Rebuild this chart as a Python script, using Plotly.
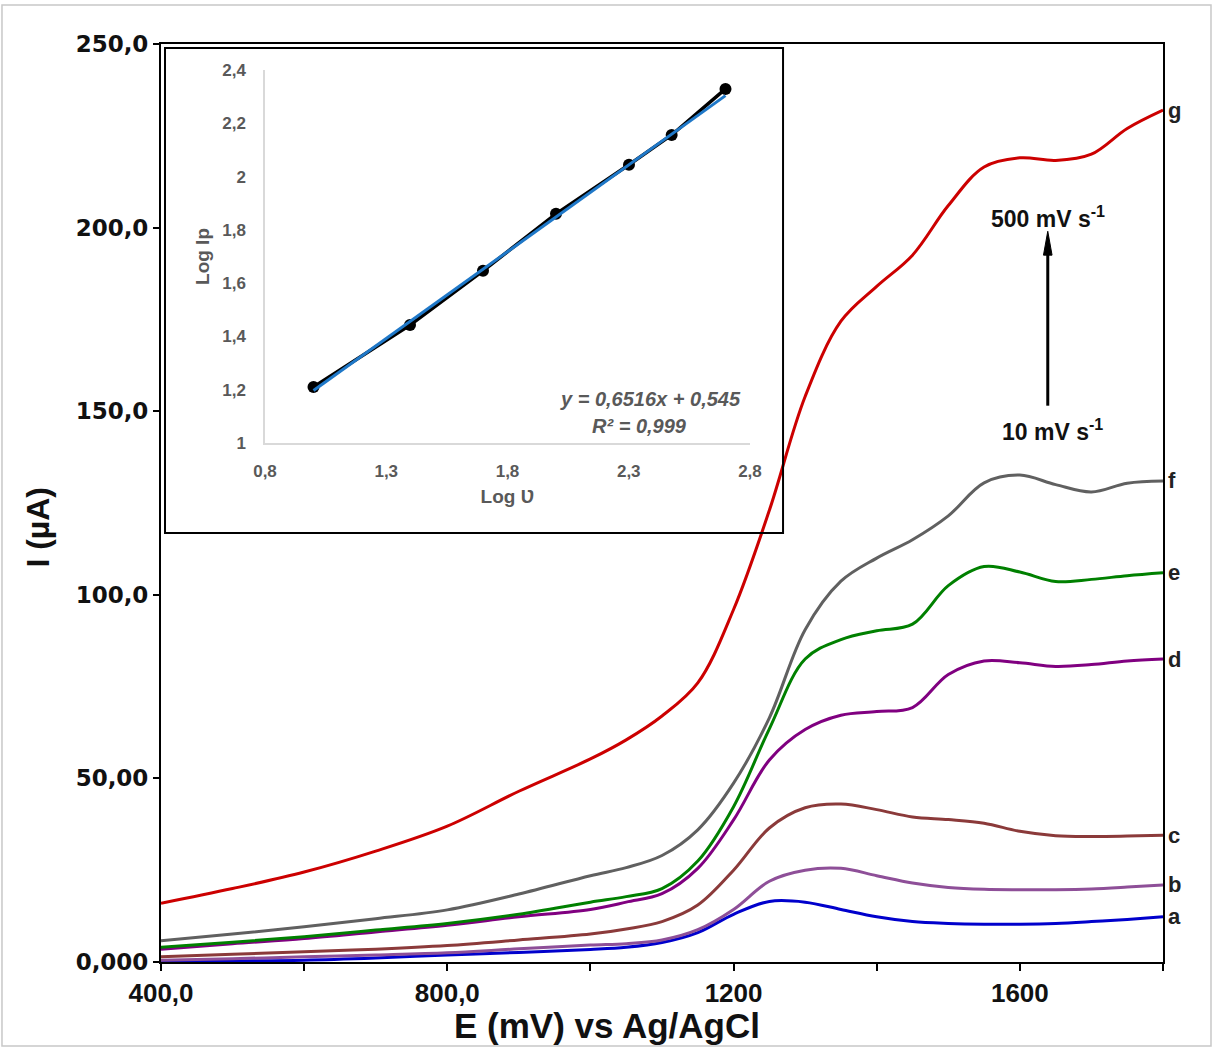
import plotly.graph_objects as go

# ---------------- main chart data ----------------
E_mV = [400, 500, 600, 700, 800, 900, 1000, 1050, 1100, 1150, 1200, 1250, 1300,
        1350, 1400, 1450, 1500, 1550, 1600, 1650, 1700, 1750, 1800]

I_a = [0.1, 0.3, 0.5, 1.1, 1.9, 2.6, 3.4, 4.0, 5.3, 8.0, 13.0, 16.5, 16.3,
       14.3, 12.3, 11.0, 10.5, 10.3, 10.3, 10.5, 11.0, 11.6, 12.3]
I_b = [0.5, 0.9, 1.4, 1.9, 2.5, 3.6, 4.6, 5.0, 6.0, 8.8, 14.3, 22.0, 25.0,
       25.5, 23.5, 21.5, 20.3, 19.8, 19.7, 19.7, 19.9, 20.4, 21.0]
I_c = [1.4, 2.1, 2.8, 3.5, 4.5, 6.0, 7.6, 9.0, 11.0, 15.5, 25.0, 36.5, 42.0,
       43.0, 41.5, 39.5, 38.8, 37.8, 35.6, 34.4, 34.2, 34.3, 34.5]
I_d = [3.5, 5.0, 6.4, 8.2, 10.0, 12.3, 14.3, 16.3, 18.6, 25.5, 38.7, 55.0, 63.3,
       67.2, 68.2, 69.3, 78.3, 82.0, 81.5, 80.5, 81.0, 82.0, 82.5]
I_e = [4.0, 5.4, 6.9, 8.7, 10.5, 13.0, 16.3, 17.8, 20.0, 27.5, 42.3, 63.5, 82.5,
       87.8, 90.2, 92.0, 102.5, 107.7, 106.2, 103.6, 104.2, 105.2, 106.0]
I_f = [5.8, 7.6, 9.6, 11.8, 14.2, 18.5, 23.5, 25.7, 29.0, 36.0, 48.7, 66.5, 90.5,
       103.7, 110.0, 115.0, 121.5, 130.5, 132.6, 130.0, 128.0, 130.4, 131.0]
I_g = [16.0, 20.0, 24.5, 30.2, 37.0, 46.5, 55.3, 60.5, 67.0, 76.0, 96.0, 123.0, 154.0,
       174.5, 184.0, 192.5, 206.0, 216.5, 219.0, 218.3, 220.0, 227.0, 232.0]

series_names = ["a", "b", "c", "d", "e", "f", "g"]
series_values = [I_a, I_b, I_c, I_d, I_e, I_f, I_g]
series_colors = ["#0000CC", "#8E4F98", "#8B3A3A", "#800080", "#008000", "#606060", "#CC0000"]

x_tickvals = [400, 800, 1200, 1600]
x_ticktext = ["400,0", "800,0", "1200", "1600"]
x_minor_ticks = [600, 1000, 1400, 1800]
y_tickvals = [0, 50, 100, 150, 200, 250]
y_ticktext = ["0,000", "50,00", "100,0", "150,0", "200,0", "250,0"]

# ---------------- inset data ----------------
log_v = [1.0, 1.398, 1.699, 2.0, 2.301, 2.477, 2.699]
log_ip = [1.21, 1.443, 1.646, 1.86, 2.044, 2.156, 2.329]
fit_slope = 0.6516
fit_intercept = 0.545
inset_xticks = [0.8, 1.3, 1.8, 2.3, 2.8]
inset_xtext = ["0,8", "1,3", "1,8", "2,3", "2,8"]
inset_yticks = [1, 1.2, 1.4, 1.6, 1.8, 2, 2.2, 2.4]
inset_ytext = ["1", "1,2", "1,4", "1,6", "1,8", "2", "2,2", "2,4"]

fig = go.Figure()

for name, vals, col in zip(series_names, series_values, series_colors):
    fig.add_trace(go.Scatter(x=E_mV, y=vals, mode="lines", name=name,
                             line=dict(color=col, width=3, shape="spline", smoothing=1.0),
                             showlegend=False, xaxis="x", yaxis="y"))

# inset traces
fig.add_trace(go.Scatter(x=log_v, y=log_ip, mode="lines+markers",
                         line=dict(color="black", width=3.5),
                         marker=dict(color="black", size=12),
                         showlegend=False, xaxis="x2", yaxis="y2"))
trend_x = [log_v[0], log_v[-1]]
trend_y = [fit_slope * v + fit_intercept for v in trend_x]
fig.add_trace(go.Scatter(x=trend_x, y=trend_y, mode="lines",
                         line=dict(color="#1F78C8", width=3),
                         showlegend=False, xaxis="x2", yaxis="y2"))

FAM = "Liberation Sans, Arial"

# curve labels at line ends
annotations = []
for name, vals in zip(series_names, series_values):
    annotations.append(dict(x=E_mV[-1], y=vals[-1], xref="x", yref="y", text="<b>%s</b>" % name,
                            showarrow=False, xanchor="left", yanchor="middle", xshift=3,
                            font=dict(family=FAM, size=22, color="#222")))

# scan-rate annotations
annotations += [
    dict(x=1639, y=203, xref="x", yref="y", text="<b>500 mV s<sup>-1</sup></b>", showarrow=False,
         font=dict(family=FAM, size=23, color="#111"), xanchor="center", yanchor="middle"),
    dict(x=1645, y=145, xref="x", yref="y", text="<b>10 mV s<sup>-1</sup></b>", showarrow=False,
         font=dict(family=FAM, size=23, color="#111"), xanchor="center", yanchor="middle"),
    # axis titles
    dict(x=0.445, y=-0.069, xref="paper", yref="paper", text="<b>E (mV) vs Ag/AgCl</b>", showarrow=False,
         font=dict(family=FAM, size=35, color="#111"), xanchor="center", yanchor="middle"),
    dict(x=-0.123, y=0.474, xref="paper", yref="paper", text="<b>I (µA)</b>", showarrow=False, textangle=-90,
         font=dict(family=FAM, size=32, color="#111"), xanchor="center", yanchor="middle"),
    # inset equation
    dict(x=2.77, y=1.165, xref="x2", yref="y2", text="<b><i>y = 0,6516x + 0,545</i></b>", showarrow=False,
         font=dict(family=FAM, size=20, color="#595959"), xanchor="right", yanchor="middle"),
    dict(x=2.55, y=1.065, xref="x2", yref="y2", text="<b><i>R² = 0,999</i></b>", showarrow=False,
         font=dict(family=FAM, size=20, color="#595959"), xanchor="right", yanchor="middle"),
]

shapes = [
    # inset frame
    dict(type="rect", xref="paper", yref="paper", x0=0.004, x1=0.6208, y0=0.4673, y1=0.9956,
         line=dict(color="black", width=2), fillcolor="rgba(0,0,0,0)", layer="above"),
    # outer image border
    dict(type="rect", xref="paper", yref="paper", x0=-0.1587, x1=1.0479, y0=-0.0915, y1=1.0425,
         line=dict(color="#c8c8c8", width=1.5), fillcolor="rgba(0,0,0,0)", layer="below"),
    # scan-rate arrow (shaft + head)
    dict(type="line", xref="x", yref="y", x0=1639, x1=1639, y0=151.5, y1=193,
         line=dict(color="black", width=3)),
    dict(type="path", xref="x", yref="y", path="M 1633,192.5 L 1645,192.5 L 1639,199 Z",
         fillcolor="black", line=dict(color="black", width=1)),
]

fig.update_layout(
    width=1213, height=1053,
    margin=dict(l=161, r=50, t=44, b=91),
    paper_bgcolor="white", plot_bgcolor="white",
    font=dict(family=FAM, color="black"),
    showlegend=False,
    xaxis=dict(range=[400, 1800], tickvals=x_tickvals, ticktext=x_ticktext,
               showgrid=False, zeroline=False, showline=True, linecolor="black", linewidth=2,
               mirror=True, ticks="outside", ticklen=7, tickwidth=2, tickcolor="black",
               minor=dict(tickvals=x_minor_ticks, ticks="outside", ticklen=7,
                          tickwidth=2, tickcolor="black", showgrid=False),
               tickfont=dict(family=FAM, size=26, color="#111", weight="bold"),
               domain=[0, 1]),
    yaxis=dict(range=[0, 250], tickvals=y_tickvals, ticktext=y_ticktext,
               showgrid=False, zeroline=False, showline=True, linecolor="black", linewidth=2,
               mirror=True, ticks="outside", ticklen=6, tickwidth=2, tickcolor="black",
               tickfont=dict(family="DejaVu Sans", size=23, color="#111", weight="bold"),
               domain=[0, 1]),
    xaxis2=dict(domain=[0.1038, 0.5878], anchor="y2", range=[0.8, 2.8],
                tickvals=inset_xticks, ticktext=inset_xtext,
                showgrid=False, zeroline=False, showline=True, linecolor="#d9d9d9", linewidth=1.5,
                ticks="", ticklabelstandoff=12,
                tickfont=dict(family=FAM, size=17, color="#595959", weight="bold"),
                title=dict(text="<b>Log Ʋ</b>", font=dict(family=FAM, size=19, color="#595959"),
                           standoff=10)),
    yaxis2=dict(domain=[0.5654, 0.9717], anchor="x2", range=[1, 2.4],
                tickvals=inset_yticks, ticktext=inset_ytext,
                showgrid=False, zeroline=False, showline=True, linecolor="#d9d9d9", linewidth=1.5,
                ticks="", ticklabelstandoff=14,
                tickfont=dict(family=FAM, size=17, color="#595959", weight="bold"),
                title=dict(text="<b>Log Ip</b>", font=dict(family=FAM, size=19, color="#595959"),
                           standoff=8)),
    annotations=annotations,
    shapes=shapes,
)

fig.write_html("out.html")
